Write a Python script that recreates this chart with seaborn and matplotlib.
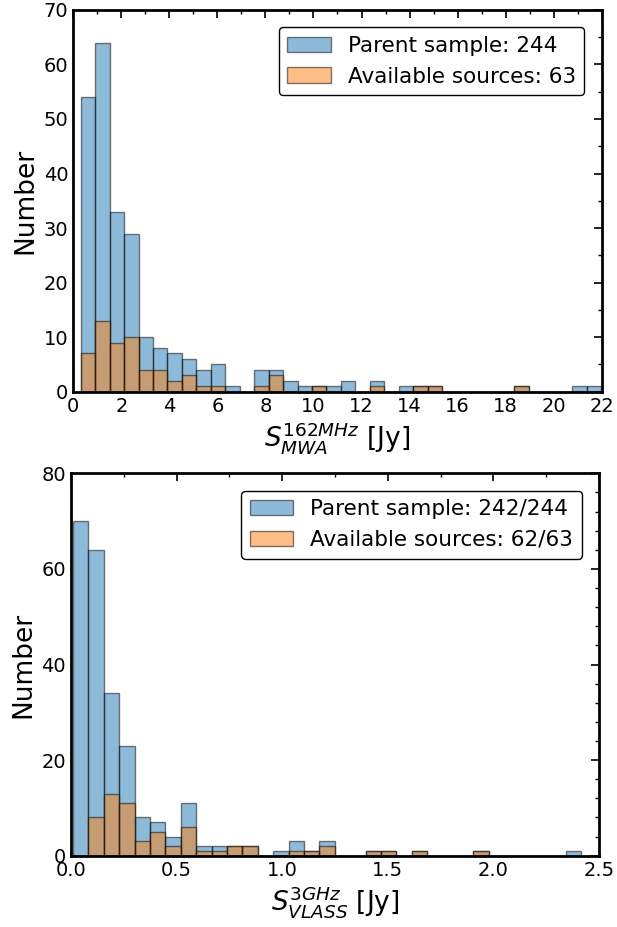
import numpy as np
import pandas as pd
import matplotlib
matplotlib.use("Agg")
import matplotlib.pyplot as plt
from matplotlib.ticker import MultipleLocator
import seaborn as sns

# ---- Data (counts per bin) ----
mwa_edges = np.linspace(0.31, 21.97, 37)
mwa_parent = [54, 64, 33, 29, 10, 8, 7, 6, 4, 5, 1, 0, 4, 4, 2, 1, 1, 1,
              2, 0, 2, 0, 1, 1, 1, 0, 0, 0, 0, 0, 1, 0, 0, 0, 1, 1]
mwa_avail = [7, 13, 9, 10, 4, 4, 2, 3, 1, 1, 0, 0, 1, 3, 0, 0, 1, 0,
             0, 0, 1, 0, 0, 1, 1, 0, 0, 0, 0, 0, 1, 0, 0, 0, 0, 0]

vlass_edges = np.linspace(0.0095, 2.415, 34)
vlass_parent = [70, 64, 34, 23, 8, 7, 4, 11, 2, 2, 2, 2, 0, 1, 3, 1, 3,
                0, 0, 1, 1, 0, 1, 0, 0, 0, 1, 0, 0, 0, 0, 0, 1]
vlass_avail = [0, 8, 13, 11, 3, 5, 2, 6, 1, 1, 2, 2, 0, 0, 1, 1, 2,
               0, 0, 1, 1, 0, 1, 0, 0, 0, 1, 0, 0, 0, 0, 0, 0]

labels_top = ["Parent sample: 244", "Available sources: 63"]
labels_bot = ["Parent sample: 242/244", "Available sources: 62/63"]

sns.set_style("white")
plt.rcParams['font.family'] = ['DejaVu Sans']
plt.rcParams['mathtext.fontset'] = 'dejavusans'
plt.rcParams['text.color'] = 'black'
plt.rcParams['axes.labelcolor'] = 'black'
plt.rcParams['xtick.color'] = 'black'
plt.rcParams['ytick.color'] = 'black'

fig = plt.figure(figsize=(6.17, 9.27), dpi=100)
ax1 = fig.add_axes([0.1188, 0.5775, 0.8564, 0.4118])
ax2 = fig.add_axes([0.1151, 0.0769, 0.8558, 0.4125])

EDGE = (0, 0, 0, 0.5)


def draw(ax, edges, parent, avail, labels):
    edges = [float(e) for e in edges]
    centers = [0.5 * (a + b) for a, b in zip(edges[:-1], edges[1:])]
    df = pd.DataFrame({"x": centers, "parent": parent, "avail": avail})
    sns.histplot(data=df, x="x", weights="parent", bins=edges,
                 color="#1f77b4", alpha=0.5, edgecolor=EDGE,
                 linewidth=1.0, ax=ax, label=labels[0])
    sns.histplot(data=df, x="x", weights="avail", bins=edges,
                 color="#ff7f0e", alpha=0.5, edgecolor=EDGE,
                 linewidth=1.0, ax=ax, label=labels[1])
    leg = ax.legend(loc="upper right", fontsize=15.5, frameon=True,
                    fancybox=True, framealpha=1, edgecolor="black",
                    borderaxespad=0.8)
    leg.get_frame().set_linewidth(1.0)
    for sp in ax.spines.values():
        sp.set_visible(True)
        sp.set_linewidth(2.0)
        sp.set_color("black")
    ax.tick_params(which="both", direction="in", top=True, right=True,
                   labelsize=14, color="black", labelcolor="black")
    ax.tick_params(which="major", length=6, width=1.2)
    ax.tick_params(which="minor", length=3, width=1.0)
    ax.set_ylabel("Number", fontsize=19)


draw(ax1, mwa_edges, mwa_parent, mwa_avail, labels_top)
ax1.set_xlim(0, 22)
ax1.set_ylim(0, 70)
ax1.xaxis.set_major_locator(MultipleLocator(2))
ax1.xaxis.set_minor_locator(MultipleLocator(1))
ax1.yaxis.set_major_locator(MultipleLocator(10))
ax1.yaxis.set_minor_locator(MultipleLocator(5))
ax1.set_xlabel(r"$S_{MWA}^{162MHz}$ [Jy]", fontsize=19, labelpad=3)

draw(ax2, vlass_edges, vlass_parent, vlass_avail, labels_bot)
ax2.set_xlim(0, 2.5)
ax2.set_ylim(0, 80)
ax2.xaxis.set_major_locator(MultipleLocator(0.5))
ax2.xaxis.set_minor_locator(MultipleLocator(0.25))
ax2.yaxis.set_major_locator(MultipleLocator(20))
ax2.yaxis.set_minor_locator(MultipleLocator(4))
ax2.set_xlabel(r"$S_{VLASS}^{3GHz}$ [Jy]", fontsize=19, labelpad=3)

fig.savefig("out.png", dpi=100)
